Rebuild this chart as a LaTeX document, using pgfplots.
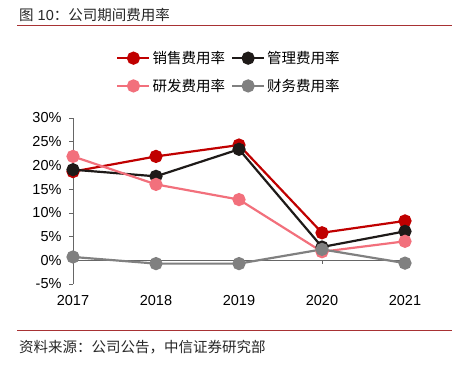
\documentclass[border=0pt]{standalone}
\usepackage{pgfplots}
\pgfplotsset{compat=1.18}
\usepackage{fontspec}
\setmainfont{Liberation Sans}
\newfontfamily\cjk{Noto Sans CJK SC}
\definecolor{cRed}{HTML}{C00000}
\definecolor{cBlack}{HTML}{1E1A18}
\definecolor{cPink}{HTML}{F2707C}
\definecolor{cGray}{HTML}{808080}
\definecolor{cRule}{HTML}{A83234}
\begin{document}
\begin{tikzpicture}
\useasboundingbox (0,0) rectangle (474bp,367bp);
\node[anchor=base west, font=\fontsize{14.5bp}{17bp}\selectfont, text=black!85, inner sep=0] at (19bp,346bp) {{\cjk 图} 10{\cjk ：公司期间费用率}};
\draw[cRule, line width=1pt] (17bp,341bp) -- (452bp,341bp);
\draw[cRule, line width=1pt] (17bp,36.5bp) -- (452bp,36.5bp);
\node[anchor=base west, font=\fontsize{14.5bp}{17bp}\cjk, text=black!85, inner sep=0] at (19bp,15bp) {资料来源：公司公告，中信证券研究部};
\begin{axis}[
  at={(73bp,83bp)}, anchor=south west,
  width=332bp, height=166bp, scale only axis,
  xmin=0, xmax=4, ymin=-5, ymax=30,
  clip=false,
  axis y line=left, axis x line=bottom,
  axis line style={-, draw=black!60, line width=0.6pt},
  x axis line style={draw=none},
  xtick={0,1,2,3,4},
  xticklabels={2017,2018,2019,2020,2021},
  xtick style={draw=none},
  xticklabel style={yshift=-6bp},
  ytick={-5,0,5,10,15,20,25,30},
  yticklabel={\pgfmathprintnumber{\tick}\%},
  ytick align=outside, major tick length=4bp,
  ytick style={draw=black!60, line width=0.6pt},
  tick label style={font=\fontsize{14.5bp}{17bp}\selectfont, text=black},
  /pgf/number format/assume math mode=true,
  yticklabel style={xshift=-4bp},
  legend columns=2,
  legend style={draw=none, fill=none, at={(0.47,1.0)}, anchor=south, yshift=21bp,
    font=\fontsize{14.5bp}{17bp}\cjk, row sep=10bp,
    /tikz/every even column/.append style={column sep=4bp}},
  legend cell align=left,
  legend image code/.code={\draw[mark repeat=2,mark phase=2,#1] plot coordinates {(0bp,0bp) (16bp,0bp) (32bp,0bp)};},
  every axis plot/.append style={line width=2.2pt, mark=*, mark size=5.5bp},
]
\draw[black!60, line width=0.8pt] (axis cs:0,0) -- (axis cs:4,0);
\pgfplotsinvokeforeach{0,1,2,3,4}{\draw[black!60, line width=0.6pt] (axis cs:#1,0) -- (axis cs:#1,-0.8);}
\addplot[cRed, mark options={fill=cRed}] coordinates {(0,18.7) (1,21.9) (2,24.3) (3,5.8) (4,8.3)};
\addlegendentry{销售费用率}
\addplot[cBlack, mark options={fill=cBlack}] coordinates {(0,19.1) (1,17.7) (2,23.4) (3,2.8) (4,6.1)};
\addlegendentry{管理费用率}
\addplot[cPink, mark options={fill=cPink}] coordinates {(0,21.9) (1,16.0) (2,12.8) (3,1.8) (4,4.0)};
\addlegendentry{研发费用率}
\addplot[cGray, mark options={fill=cGray}] coordinates {(0,0.7) (1,-0.7) (2,-0.7) (3,2.3) (4,-0.6)};
\addlegendentry{财务费用率}
\end{axis}
\end{tikzpicture}
\end{document}
